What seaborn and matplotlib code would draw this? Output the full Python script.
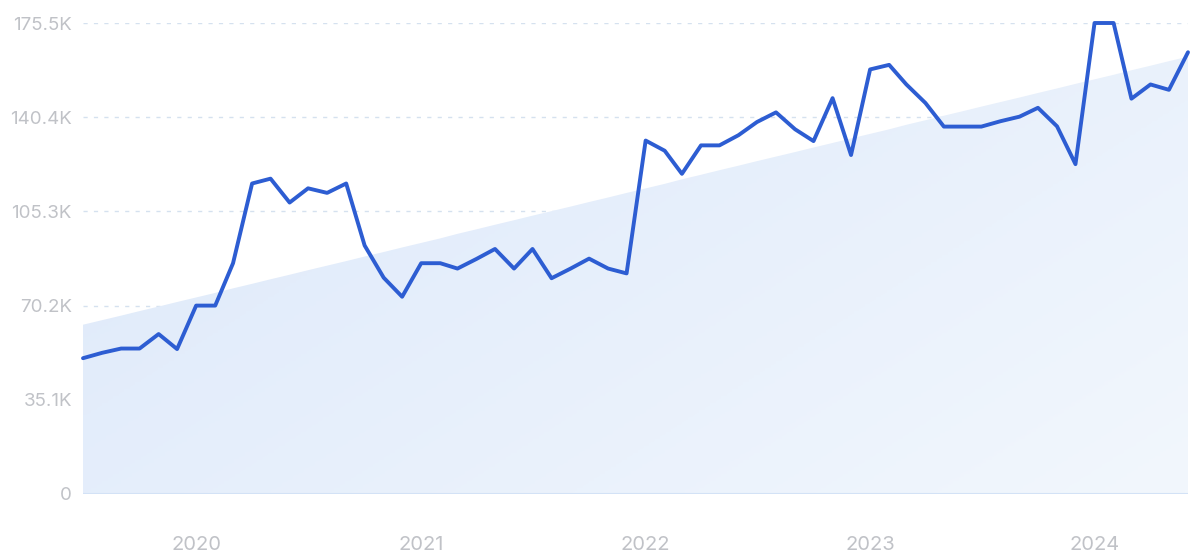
import numpy as np
import pandas as pd
import matplotlib.pyplot as plt
import matplotlib.dates as mdates
import seaborn as sns
from matplotlib.colors import LinearSegmentedColormap

# monthly values, Jul 2019 .. Jun 2024
months = pd.date_range('2019-07-01', periods=60, freq='MS')
values = [50.6, 52.6, 54.2, 54.2, 59.6, 54.0, 70.2, 70.2, 86.0, 115.7,
          117.5, 108.6, 113.9, 112.2, 115.7, 92.6, 80.6, 73.5, 86.0, 86.0,
          84.0, 87.6, 91.3, 84.0, 91.3, 80.4, 84.0, 87.7, 84.0, 82.2,
          131.7, 127.9, 119.3, 129.9, 129.9, 133.7, 138.6, 142.2, 135.9, 131.5,
          147.5, 126.3, 158.2, 159.9, 152.6, 145.7, 136.9, 136.9, 136.9, 138.9,
          140.6, 143.9, 137.0, 122.9, 175.5, 175.5, 147.3, 152.6, 150.6, 164.6]
values = [v * 1000 for v in values]

y_ticks = [0, 35100, 70200, 105300, 140400, 175500]
y_labels = ['0', '35.1K', '70.2K', '105.3K', '140.4K', '175.5K']
years = ['2020', '2021', '2022', '2023', '2024']

df = pd.DataFrame({'month': months, 'value': values})

# linear trend for the shaded area
xnum = np.arange(len(df))
slope, intercept = np.polyfit(xnum, df['value'], 1)
trend = intercept + slope * xnum

sns.set_style('white')
plt.rcParams['font.family'] = ['Inter', 'DejaVu Sans']

fig = plt.figure(figsize=(12, 5.59), dpi=100)
ax = fig.add_axes([83 / 1200, 1 - 494 / 559, (1188 - 83) / 1200, (494 - 23) / 559])

# gradient fill under the trend line
poly = ax.fill_between(df['month'], 0, trend, color='none', lw=0)
xmin, xmax = df['month'].iloc[0], df['month'].iloc[-1]
gx, gy = np.meshgrid(np.linspace(0, 1, 200), np.linspace(0, 1, 200))
grad = 0.6 * gx + 0.4 * gy
cmap = LinearSegmentedColormap.from_list('fill', ['#dce8fa', '#f2f7fd'])
img = ax.imshow(grad, cmap=cmap, aspect='auto', origin='upper',
                extent=[mdates.date2num(xmin), mdates.date2num(xmax), 0, 175500],
                zorder=1)
img.set_clip_path(poly.get_paths()[0], transform=ax.transData)

for t in y_ticks[1:]:
    ax.axhline(t, color='#d5e1ef', lw=1, ls=(0, (3, 4.5)), zorder=0)
ax.axhline(0, color='#d3e2f6', lw=1.5, zorder=2)

sns.lineplot(data=df, x='month', y='value', ax=ax, color='#2d5dd2', lw=2.8,
             zorder=3, clip_on=False)

ax.set_xlim(xmin, xmax)
ax.set_ylim(0, 175500)
ax.set_yticks(y_ticks)
ax.set_yticklabels(y_labels)
ax.set_xticks([pd.Timestamp(y + '-01-01') for y in years])
ax.set_xticklabels(years)
ax.tick_params(axis='both', length=0, labelsize=13.5, colors='#c0c2c7')
ax.tick_params(axis='x', pad=30, labelsize=14.5)
ax.tick_params(axis='y', pad=8)
ax.set_xlabel('')
ax.set_ylabel('')
sns.despine(ax=ax, left=True, bottom=True)

fig.savefig('out.png', dpi=100)
